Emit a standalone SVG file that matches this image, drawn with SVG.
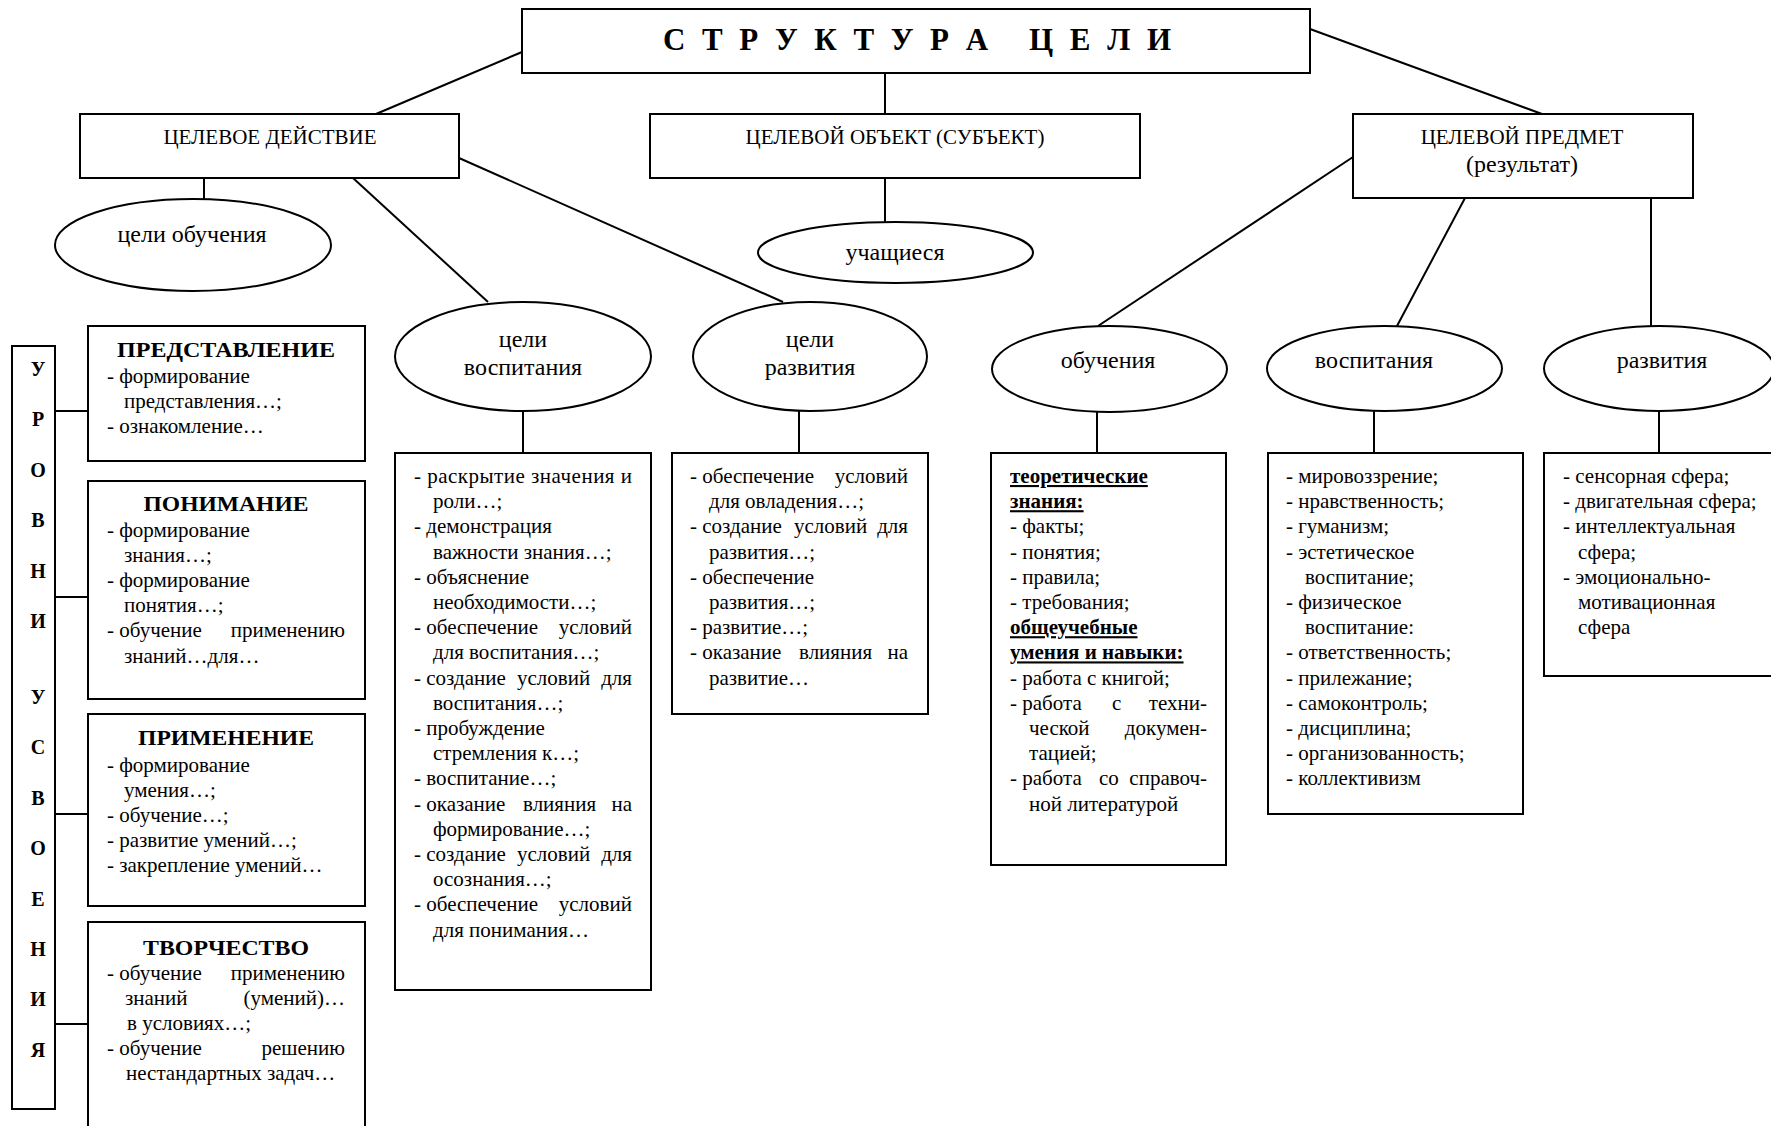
<svg xmlns="http://www.w3.org/2000/svg" width="1771" height="1126" viewBox="0 0 1771 1126">
<style>
.b{fill:#fff;stroke:#000;stroke-width:2}
.l{stroke:#000;stroke-width:2;fill:none}
text{font-family:"Liberation Serif","Times New Roman",serif;fill:#000;font-size:21px}
.e{font-size:24px;text-anchor:middle}
.c{text-anchor:middle}
.r{text-anchor:end}
.h{font-weight:bold;font-size:22px;text-anchor:middle}
.u{font-weight:bold;text-decoration:underline}
.v{font-weight:bold;font-size:20px;text-anchor:middle}
.ttl{font-weight:bold;font-size:31px;white-space:pre}
</style>
<rect width="1771" height="1126" fill="#fff"/>
<g id="connectors">
<line class="l" x1="522" y1="52" x2="376" y2="114"/>
<line class="l" x1="885" y1="73" x2="885" y2="114"/>
<line class="l" x1="1310" y1="29" x2="1542" y2="114"/>
<line class="l" x1="204" y1="178" x2="204" y2="199"/>
<line class="l" x1="353" y1="178" x2="488" y2="302"/>
<line class="l" x1="459" y1="158" x2="783" y2="302"/>
<line class="l" x1="885" y1="178" x2="885" y2="222"/>
<line class="l" x1="1353" y1="157" x2="1098" y2="326"/>
<line class="l" x1="1465" y1="198" x2="1397" y2="326"/>
<line class="l" x1="1651" y1="198" x2="1651" y2="326"/>
<line class="l" x1="523" y1="411" x2="523" y2="453"/>
<line class="l" x1="799" y1="411" x2="799" y2="453"/>
<line class="l" x1="1097" y1="412" x2="1097" y2="453"/>
<line class="l" x1="1374" y1="411" x2="1374" y2="453"/>
<line class="l" x1="1659" y1="411" x2="1659" y2="453"/>
<line class="l" x1="55" y1="411" x2="88" y2="411"/>
<line class="l" x1="55" y1="597" x2="88" y2="597"/>
<line class="l" x1="55" y1="814" x2="88" y2="814"/>
<line class="l" x1="55" y1="1024" x2="88" y2="1024"/>
</g>
<g id="title">
<rect class="b" x="522" y="9" width="788" height="64"/>
<text class="ttl" x="663" y="50" textLength="508" lengthAdjust="spacing">С Т Р У К Т У Р А   Ц Е Л И</text>
</g>
<g id="action">
<rect class="b" x="80" y="114" width="379" height="64"/>
<text class="c" x="270" y="144">ЦЕЛЕВОЕ ДЕЙСТВИЕ</text>
</g>
<g id="object">
<rect class="b" x="650" y="114" width="490" height="64"/>
<text class="c" x="895" y="144">ЦЕЛЕВОЙ ОБЪЕКТ (СУБЪЕКТ)</text>
</g>
<g id="subject">
<rect class="b" x="1353" y="114" width="340" height="84"/>
<text class="c" x="1522" y="144">ЦЕЛЕВОЙ ПРЕДМЕТ</text>
<text class="c" x="1522" y="172" style="font-size:24px">(результат)</text>
</g>
<g id="goals-learning">
<ellipse class="b" cx="193" cy="245" rx="138" ry="46"/>
<text class="e" x="192" y="242">цели обучения</text>
</g>
<g id="students">
<ellipse class="b" cx="895.5" cy="252.5" rx="137.5" ry="30.5"/>
<text class="e" x="895" y="260">учащиеся</text>
</g>
<g id="goals-upbringing">
<ellipse class="b" cx="523" cy="356.5" rx="128" ry="54.5"/>
<text class="e" x="523" y="347">цели</text>
<text class="e" x="523" y="375">воспитания</text>
</g>
<g id="goals-development">
<ellipse class="b" cx="810" cy="356.5" rx="117" ry="54.5"/>
<text class="e" x="810" y="347">цели</text>
<text class="e" x="810" y="375">развития</text>
</g>
<g id="res-learning">
<ellipse class="b" cx="1109.5" cy="369" rx="117.5" ry="43"/>
<text class="e" x="1108" y="368">обучения</text>
</g>
<g id="res-upbringing">
<ellipse class="b" cx="1384.5" cy="368.5" rx="117.5" ry="42.5"/>
<text class="e" x="1374" y="368">воспитания</text>
</g>
<g id="res-development">
<ellipse class="b" cx="1659" cy="368.5" rx="115" ry="42.5"/>
<text class="e" x="1662" y="368">развития</text>
</g>
<g id="levels">
<rect class="b" x="12" y="346" width="43" height="763"/>
<text class="v" x="38" y="376">У</text>
<text class="v" x="38" y="426.4">Р</text>
<text class="v" x="38" y="476.8">О</text>
<text class="v" x="38" y="527.2">В</text>
<text class="v" x="38" y="577.6">Н</text>
<text class="v" x="38" y="628">И</text>
<text class="v" x="38" y="704">У</text>
<text class="v" x="38" y="754.4">С</text>
<text class="v" x="38" y="804.8">В</text>
<text class="v" x="38" y="855.2">О</text>
<text class="v" x="38" y="905.6">Е</text>
<text class="v" x="38" y="956">Н</text>
<text class="v" x="38" y="1006.4">И</text>
<text class="v" x="38" y="1056.8">Я</text>
</g>
<g id="level-representation">
<rect class="b" x="88" y="326" width="277" height="135"/>
<text class="h" x="226" y="357" textLength="218" lengthAdjust="spacingAndGlyphs">ПРЕДСТАВЛЕНИЕ</text>
<text x="107" y="383">- формирование</text>
<text x="124" y="408">представления…;</text>
<text x="107" y="433">- ознакомление…</text>
</g>
<g id="level-understanding">
<rect class="b" x="88" y="481" width="277" height="218"/>
<text class="h" x="226" y="511" textLength="165" lengthAdjust="spacingAndGlyphs">ПОНИМАНИЕ</text>
<text x="107" y="537">- формирование</text>
<text x="124" y="562">знания…;</text>
<text x="107" y="587">- формирование</text>
<text x="124" y="612">понятия…;</text>
<text x="107" y="637">- обучение</text>
<text class="r" x="345" y="637">применению</text>
<text x="124" y="663">знаний…для…</text>
</g>
<g id="level-application">
<rect class="b" x="88" y="714" width="277" height="192"/>
<text class="h" x="226" y="745" textLength="176" lengthAdjust="spacingAndGlyphs">ПРИМЕНЕНИЕ</text>
<text x="107" y="772">- формирование</text>
<text x="124" y="797">умения…;</text>
<text x="107" y="822">- обучение…;</text>
<text x="107" y="847">- развитие умений…;</text>
<text x="107" y="872">- закрепление умений…</text>
</g>
<g id="level-creativity">
<rect class="b" x="88" y="922" width="277" height="230"/>
<text class="h" x="226" y="955" textLength="166" lengthAdjust="spacingAndGlyphs">ТВОРЧЕСТВО</text>
<text x="107" y="980">- обучение</text>
<text class="r" x="345" y="980">применению</text>
<text x="125" y="1005">знаний</text>
<text class="r" x="345" y="1005">(умений)…</text>
<text x="127" y="1030">в условиях…;</text>
<text x="107" y="1055">- обучение</text>
<text class="r" x="345" y="1055">решению</text>
<text x="126" y="1080">нестандартных задач…</text>
</g>
<g id="box-upbringing-goals">
<rect class="b" x="395" y="453" width="256" height="537"/>
<text x="414" y="483" textLength="218" lengthAdjust="spacing">- раскрытие значения и</text>
<text x="433" y="508.2">роли…;</text>
<text x="414" y="533.4">- демонстрация</text>
<text x="433" y="558.6">важности знания…;</text>
<text x="414" y="583.8">- объяснение</text>
<text x="433" y="609">необходимости…;</text>
<text x="414" y="634.2">- обеспечение</text>
<text class="r" x="632" y="634.2">условий</text>
<text x="433" y="659.4">для воспитания…;</text>
<text x="414" y="684.6">- создание</text>
<text x="517" y="684.6">условий</text>
<text class="r" x="632" y="684.6">для</text>
<text x="433" y="709.8">воспитания…;</text>
<text x="414" y="735">- пробуждение</text>
<text x="433" y="760.2">стремления к…;</text>
<text x="414" y="785.4">- воспитание…;</text>
<text x="414" y="810.6">- оказание</text>
<text x="523" y="810.6">влияния</text>
<text class="r" x="632" y="810.6">на</text>
<text x="433" y="835.8">формирование…;</text>
<text x="414" y="861">- создание</text>
<text x="517" y="861">условий</text>
<text class="r" x="632" y="861">для</text>
<text x="433" y="886.2">осознания…;</text>
<text x="414" y="911.4">- обеспечение</text>
<text class="r" x="632" y="911.4">условий</text>
<text x="433" y="936.6">для понимания…</text>
</g>
<g id="box-development-goals">
<rect class="b" x="672" y="453" width="256" height="261"/>
<text x="690" y="483">- обеспечение</text>
<text class="r" x="908" y="483">условий</text>
<text x="709" y="508.2">для овладения…;</text>
<text x="690" y="533.4">- создание</text>
<text x="794" y="533.4">условий</text>
<text class="r" x="908" y="533.4">для</text>
<text x="709" y="558.6">развития…;</text>
<text x="690" y="583.8">- обеспечение</text>
<text x="709" y="609">развития…;</text>
<text x="690" y="634.2">- развитие…;</text>
<text x="690" y="659.4">- оказание</text>
<text x="799" y="659.4">влияния</text>
<text class="r" x="908" y="659.4">на</text>
<text x="709" y="684.6">развитие…</text>
</g>
<g id="box-learning-result">
<rect class="b" x="991" y="453" width="235" height="412"/>
<text class="u" x="1010" y="483">теоретические</text>
<text class="u" x="1010" y="508.2">знания:</text>
<text x="1010" y="533.4">- факты;</text>
<text x="1010" y="558.6">- понятия;</text>
<text x="1010" y="583.8">- правила;</text>
<text x="1010" y="609">- требования;</text>
<text class="u" x="1010" y="634.2">общеучебные</text>
<text class="u" x="1010" y="659.4">умения и навыки:</text>
<text x="1010" y="684.6">- работа с книгой;</text>
<text x="1010" y="709.8">- работа</text>
<text x="1112" y="709.8">с</text>
<text class="r" x="1207" y="709.8">техни-</text>
<text x="1029" y="735">ческой</text>
<text class="r" x="1207" y="735">докумен-</text>
<text x="1029" y="760.2">тацией;</text>
<text x="1010" y="785.4">- работа</text>
<text x="1099" y="785.4">со</text>
<text class="r" x="1207" y="785.4">справоч-</text>
<text x="1029" y="810.6">ной литературой</text>
</g>
<g id="box-upbringing-result">
<rect class="b" x="1268" y="453" width="255" height="361"/>
<text x="1286" y="483">- мировоззрение;</text>
<text x="1286" y="508.2">- нравственность;</text>
<text x="1286" y="533.4">- гуманизм;</text>
<text x="1286" y="558.6">- эстетическое</text>
<text x="1305" y="583.8">воспитание;</text>
<text x="1286" y="609">- физическое</text>
<text x="1305" y="634.2">воспитание:</text>
<text x="1286" y="659.4">- ответственность;</text>
<text x="1286" y="684.6">- прилежание;</text>
<text x="1286" y="709.8">- самоконтроль;</text>
<text x="1286" y="735">- дисциплина;</text>
<text x="1286" y="760.2">- организованность;</text>
<text x="1286" y="785.4">- коллективизм</text>
</g>
<g id="box-development-result">
<rect class="b" x="1544" y="453" width="240" height="223"/>
<text x="1563" y="483">- сенсорная сфера;</text>
<text x="1563" y="508.2">- двигательная сфера;</text>
<text x="1563" y="533.4">- интеллектуальная</text>
<text x="1578" y="558.6">сфера;</text>
<text x="1563" y="583.8">- эмоционально-</text>
<text x="1578" y="609">мотивационная</text>
<text x="1578" y="634.2">сфера</text>
</g>
</svg>
